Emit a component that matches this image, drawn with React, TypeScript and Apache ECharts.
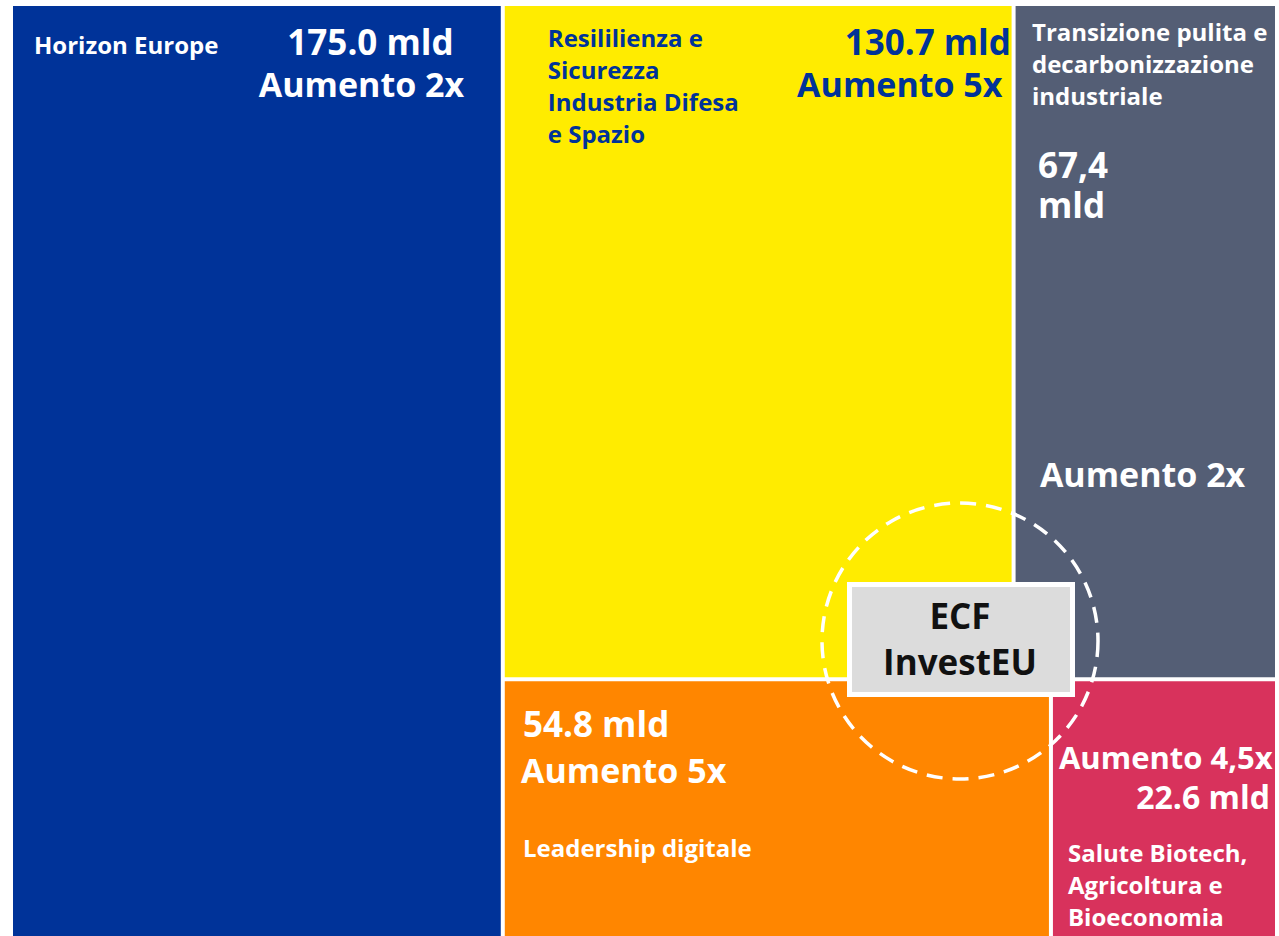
import React, { useEffect, useRef } from "react";
import * as echarts from "echarts";

// ---- data ----
const categories = [
  "Horizon Europe",
  "Resililienza e Sicurezza Industria Difesa e Spazio",
  "Transizione pulita e decarbonizzazione industriale",
  "Leadership digitale",
  "Salute Biotech, Agricoltura e Bioeconomia",
];
const categoryLabels = [
  "Horizon Europe",
  "Resililienza e\nSicurezza\nIndustria Difesa\ne Spazio",
  "Transizione pulita e\ndecarbonizzazione\nindustriale",
  "Leadership digitale",
  "Salute Biotech,\nAgricoltura e\nBioeconomia",
];
const values = [175.0, 130.7, 67.4, 54.8, 22.6]; // mld
const valueLabels = ["175.0 mld", "130.7 mld", "67,4\nmld", "54.8 mld", "22.6 mld"];
const growthLabels = ["Aumento 2x", "Aumento 5x", "Aumento 2x", "Aumento 5x", "Aumento 4,5x"];
const centerLabel = "ECF\nInvestEU";

// ---- styles ----
const FONT = '"Open Sans", "Noto Sans", sans-serif';
const fills = ["#003399", "#FFEC00", "#545E75", "#FF8600", "#D8325C"];
const textColors = ["#ffffff", "#003399", "#ffffff", "#ffffff", "#ffffff"];
const TRANSPARENT = "rgba(0,0,0,0)";

type Place = { p: [number, number]; a: string; v: string; s: number; lh: number };
const namePlace: Place[] = [
  { p: [21, 38.5], a: "left", v: "middle", s: 24, lh: 32 },
  { p: [43, 15], a: "left", v: "top", s: 24, lh: 32 },
  { p: [16.4, 9.3], a: "left", v: "top", s: 24, lh: 32 },
  { p: [18.2, 166.8], a: "left", v: "middle", s: 24, lh: 32 },
  { p: [15, 155.8], a: "left", v: "top", s: 24, lh: 32 },
];
const valuePlace: Place[] = [
  { p: [357.5, 35.7], a: "center", v: "middle", s: 35, lh: 43 },
  { p: [423, 35.7], a: "center", v: "middle", s: 35, lh: 43 },
  { p: [22.4, 138], a: "left", v: "top", s: 35, lh: 40 },
  { p: [18.2, 42.8], a: "left", v: "middle", s: 35, lh: 43 },
  { p: [217, 115.8], a: "right", v: "middle", s: 32, lh: 40 },
];
const growthPlace: Place[] = [
  { p: [348.5, 78], a: "center", v: "middle", s: 34, lh: 43 },
  { p: [395, 78], a: "center", v: "middle", s: 34, lh: 43 },
  { p: [127, 468], a: "center", v: "middle", s: 34, lh: 43 },
  { p: [16.2, 88.8], a: "left", v: "middle", s: 34, lh: 43 },
  { p: [6, 76.3], a: "left", v: "middle", s: 31, lh: 40 },
];

type Kind = "name" | "value" | "growth";

function buildSeries(kind: Kind) {
  const texts = kind === "name" ? categoryLabels : kind === "value" ? valueLabels : growthLabels;
  const places = kind === "name" ? namePlace : kind === "value" ? valuePlace : growthPlace;
  const isBase = kind === "name";
  const leaf = (i: number) => ({
    name: categories[i],
    value: values[i],
    itemStyle: { color: isBase ? fills[i] : TRANSPARENT },
    label: {
      show: true,
      formatter: texts[i],
      position: places[i].p,
      align: places[i].a,
      verticalAlign: places[i].v,
      fontSize: places[i].s,
      lineHeight: places[i].lh,
      fontFamily: FONT,
      fontWeight: "bold",
      color: textColors[i],
      padding: 0,
      overflow: "none",
    },
  });
  const groupStyle = {
    color: isBase ? "#ffffff" : TRANSPARENT,
    borderColor: isBase ? "#ffffff" : TRANSPARENT,
    borderWidth: 0,
    gapWidth: 4,
  };
  const data = [
    leaf(0),
    {
      name: "rest",
      itemStyle: groupStyle,
      children: [
        { name: "top", itemStyle: groupStyle, children: [leaf(1), leaf(2)] },
        { name: "bottom", itemStyle: groupStyle, children: [leaf(3), leaf(4)] },
      ],
    },
  ];
  const levelStyle = { itemStyle: groupStyle };
  return {
    type: "treemap",
    left: 13,
    top: 6,
    width: 1262,
    height: 935,
    squareRatio: 1,
    sort: false,
    roam: false,
    nodeClick: false,
    silent: true,
    breadcrumb: { show: false },
    label: { show: false },
    upperLabel: { show: false },
    levels: [levelStyle, levelStyle, levelStyle, levelStyle],
    itemStyle: groupStyle,
    data,
  };
}

export default function App() {
  const ref = useRef<HTMLDivElement>(null);
  useEffect(() => {
    if (!ref.current) return;
    const chart = echarts.init(ref.current, null, { renderer: "svg" });
    chart.setOption({
      animation: false,
      series: [buildSeries("name"), buildSeries("value"), buildSeries("growth")],
      graphic: {
        elements: [
          {
            type: "circle",
            z: 100,
            silent: true,
            shape: { cx: 960, cy: 641, r: 138 },
            style: { fill: "none", stroke: "#ffffff", lineWidth: 3.5, lineDash: [16, 10] },
          },
          {
            type: "rect",
            z: 101,
            silent: true,
            shape: { x: 849.5, y: 584.5, width: 223, height: 110 },
            style: { fill: "#DCDCDC", stroke: "#ffffff", lineWidth: 5 },
          },
          {
            type: "text",
            z: 102,
            silent: true,
            x: 960,
            y: 638,
            style: {
              text: centerLabel,
              align: "center",
              verticalAlign: "middle",
              fontFamily: FONT,
              fontWeight: "bold",
              fontSize: 35,
              lineHeight: 46,
              fill: "#111111",
            },
          },
        ],
      },
    });
    return () => chart.dispose();
  }, []);
  return (
    <div
      ref={ref}
      style={{ position: "fixed", left: 0, top: 0, width: 1279, height: 936, background: "#ffffff" }}
    />
  );
}
